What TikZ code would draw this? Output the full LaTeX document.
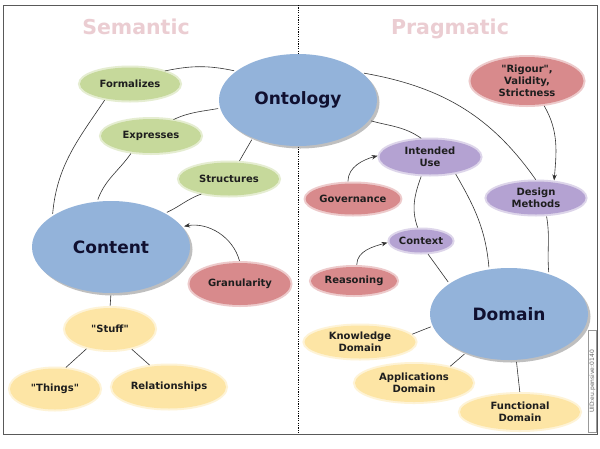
\documentclass[tikz,border=0pt]{standalone}
\usepackage{fontspec}
\setmainfont{DejaVu Sans}[Ligatures=TeXOff]
\usetikzlibrary{shapes.geometric,arrows.meta,shadows}
\definecolor{cblue}{HTML}{93B3DA}
\definecolor{cgreen}{HTML}{C6D99B}
\definecolor{cred}{HTML}{D88A8C}
\definecolor{cpurple}{HTML}{B4A2D2}
\definecolor{cyellow}{HTML}{FDE5A5}
\definecolor{ctitle}{HTML}{EBCDD2}
\definecolor{txt}{HTML}{1E1E1E}
\definecolor{bigtxt}{HTML}{101030}
\definecolor{linec}{HTML}{333333}
\tikzset{
  bub/.style={ellipse, inner sep=0pt, align=center, text=txt,
    font=\bfseries\fontsize{10}{12}\selectfont},
  glowfill/.style={fill=#1, preaction={draw=#1, draw opacity=.45, line width=4pt}},
  big/.style={ellipse, inner sep=0pt, fill=cblue, text=bigtxt,
    font=\bfseries\fontsize{17}{20}\selectfont,
    minimum width=158pt, minimum height=92pt,
    drop shadow={shadow xshift=2.5pt, shadow yshift=-2.5pt, fill=black!55, opacity=.45}},
  titlestyle/.style={font=\bfseries\fontsize{20.5}{24}\selectfont, text=ctitle},
  link/.style={draw=linec, line width=.6pt, shorten <=2pt, shorten >=2pt},
  arr/.style={link, -{Stealth[length=6pt,width=4.5pt]}},
}
\begin{document}
\begin{tikzpicture}[x=1pt,y=1pt]
\useasboundingbox (0,0) rectangle (600,-448);
\fill[white] (0,0) rectangle (600,-448);
\draw[black!65, line width=1pt] (3,-5) rectangle (597,-434);
\draw[black, line width=.6pt, dash pattern=on 1.2pt off 1.2pt] (298,-5) -- (298,-434);

\node[titlestyle] (sem) at (136,-27) {Semantic};
\node[titlestyle] (prag) at (450,-29) {Pragmatic};

% big nodes
\node[big] (ont) at (298,-100) {Ontology};
\node[big] (cont) at (111,-247) {Content};
\node[big] (dom) at (509,-314) {Domain};

% green
\node[bub, glowfill=cgreen, minimum width=100pt, minimum height=33pt] (form) at (130,-84) {Formalizes};
\node[bub, glowfill=cgreen, minimum width=100pt, minimum height=34pt] (expr) at (151,-136) {Expresses};
\node[bub, glowfill=cgreen, minimum width=100pt, minimum height=33pt] (struc) at (229,-179) {Structures};

% red
\node[bub, glowfill=cred, minimum width=101pt, minimum height=42pt] (gran) at (240,-284) {Granularity};
\node[bub, glowfill=cred, minimum width=113pt, minimum height=48pt] (rig) at (527,-81) {"Rigour",\\Validity,\\Strictness};
\node[bub, glowfill=cred, minimum width=93pt, minimum height=31pt] (gov) at (353,-199) {Governance};
\node[bub, glowfill=cred, minimum width=86pt, minimum height=28pt] (reas) at (354,-281) {Reasoning};

% purple
\node[bub, glowfill=cpurple, minimum width=101pt, minimum height=35pt] (iu) at (430,-157) {Intended\\Use};
\node[bub, glowfill=cpurple, minimum width=99pt, minimum height=33pt] (dm) at (536,-198) {Design\\Methods};
\node[bub, glowfill=cpurple, minimum width=63pt, minimum height=23pt] (ctx) at (421,-241) {Context};

% yellow
\node[bub, glowfill=cyellow, minimum width=90pt, minimum height=42pt] (stuff) at (110,-329) {"Stuff"};
\node[bub, glowfill=cyellow, minimum width=90pt, minimum height=41pt] (things) at (55,-389) {"Things"};
\node[bub, glowfill=cyellow, minimum width=114pt, minimum height=43pt] (rel) at (169,-387) {Relationships};
\node[bub, glowfill=cyellow, minimum width=111pt, minimum height=33pt] (know) at (360,-342) {Knowledge\\Domain};
\node[bub, glowfill=cyellow, minimum width=118pt, minimum height=38pt] (app) at (414,-383) {Applications\\Domain};
\node[bub, glowfill=cyellow, minimum width=120pt, minimum height=36pt] (func) at (520,-412) {Functional\\Domain};

% connectors
\draw[link] (form.21) to[out=12,in=168] (ont.155);
\draw[link] (form.211) to[out=236,in=85] (cont.152);
\draw[link] (expr.37) to[out=25,in=190] (ont.186);
\draw[link] (expr.220) to[out=235,in=70] (cont.107);
\draw[link] (struc.60) -- (ont.220);
\draw[link] (struc.209) to[out=200,in=25] (cont.32);
\draw[arr] (gran.90) to[out=105,in=10] (cont.16);
\draw[link] (cont.south) -- (stuff.north);
\draw[link] (stuff.220) -- (things.65);
\draw[link] (stuff.317) -- (rel.131);

\draw[link] (ont.23) to[out=-10,in=125] (dm.87);
\draw[link] (ont.344) to[out=-15,in=145] (iu.112);
\draw[arr] (rig.305) to[out=-60,in=85] (dm.41);
\draw[arr] (gov.108) to[out=90,in=195] (iu.178);
\draw[arr] (reas.79) to[out=90,in=195] (ctx.182);
\draw[link] (iu.245) to[out=250,in=110] (ctx.103);
\draw[link] (iu.328) to[out=-60,in=95] (dom.114);
\draw[link] (ctx.297) -- (dom.153);
\draw[link] (dm.302) to[out=-80,in=95] (dom.45);
\draw[link] (dom.189) -- (know.8);
\draw[link] (dom.222) -- (app.24);
\draw[link] (dom.279) -- (func.90);

% watermark
\node[draw=black!40, fill=white, rotate=90, inner sep=0.8pt, minimum width=102pt, minimum height=8pt,
  font=\fontsize{6}{7}\selectfont, text=black!60] (uid) at (592.5,-381.5) {UID:eu.pensive:0140};
\end{tikzpicture}
\end{document}
